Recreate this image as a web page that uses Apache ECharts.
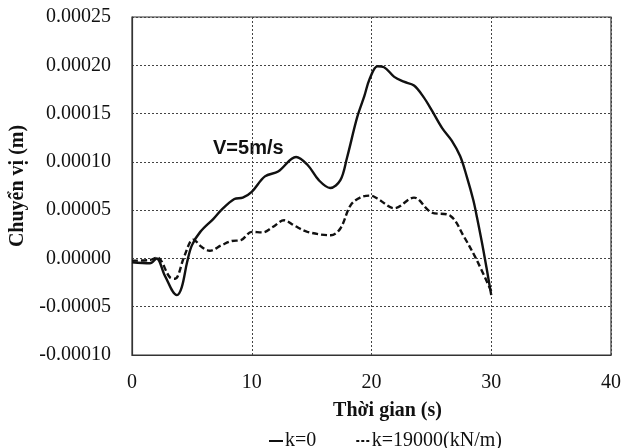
<!DOCTYPE html>
<html>
<head>
<meta charset="utf-8">
<script src="https://cdn.jsdelivr.net/npm/echarts@6/dist/echarts.min.js"></script>
<style>
  html, body { margin: 0; padding: 0; background: #fff; }
  #chart { width: 624px; height: 448px; }
</style>
</head>
<body>
<div id="chart"></div>
<script>
  // thoi gian (s) va chuyen vi (x 1e-5 m), doc tu hinh
  var tK0 = [0, 1.5, 2.05, 2.75, 3.75, 4.15, 4.6, 5.0, 5.7, 6.8, 7.45, 8.55, 9.25, 10, 11.1, 12.2, 13.7, 14.65, 15.6, 16.55, 17.4, 17.95, 18.8, 19.4, 19.85, 20.5, 21.05, 21.9, 22.7, 23.55, 24.35, 25.05, 25.9, 26.7, 27.4, 27.95, 28.5, 28.8, 29.35, 30]
  var vK0 = [-0.4, -0.5, 0.0, -1.8, -3.8, -3.0, -0.4, 1.35, 2.75, 4.1, 5.0, 6.15, 6.3, 6.9, 8.5, 9.0, 10.5, 9.7, 8.1, 7.3, 8.1, 10.4, 14.6, 16.8, 18.6, 19.9, 19.8, 18.8, 18.3, 17.9, 16.7, 15.3, 13.5, 12.2, 10.6, 8.5, 6.05, 4.3, 0.8, -3.8]

  var tK19000 = [0, 1.5, 2.1, 3.2, 3.6, 4.3, 4.85, 5.1, 5.8, 6.5, 7.45, 8.3, 9.1, 10, 10.9, 11.75, 12.7, 13.55, 14.65, 16.6, 17.4, 18.25, 19.05, 19.9, 20.5, 21.9, 23.55, 24.95, 26.6, 27.7, 28.8, 30]
  var vK19000 = [-0.23, -0.16, 0.1, -2.0, -2.1, 0.0, 1.7, 1.95, 1.2, 0.8, 1.35, 1.8, 1.9, 2.75, 2.7, 3.25, 3.95, 3.4, 2.75, 2.4, 3.1, 5.5, 6.3, 6.5, 6.2, 5.2, 6.3, 4.8, 4.4, 2.3, -0.2, -3.4]

  var seriesNames = ['k=0', 'k=19000(kN/m)']

  function pairs(t, v) {
    var out = []
    for (var i = 0; i < t.length; i++) {
      out.push([t[i], v[i] * 1e-5])
    }
    return out
  }

  var myChart = echarts.init(document.getElementById('chart'))
  var font = '"Liberation Serif", "Times New Roman", serif'
  var gridLine = { show: true, lineStyle: { type: [2, 2], color: '#444', width: 1 } }

  var option = {
    backgroundColor: '#fff',
    animation: false,
    textStyle: { fontFamily: font, color: '#111' },
    grid: {
      left: 131, right: 12, top: 17, bottom: 93,
      show: true, borderColor: '#333', borderWidth: 1.2
    },
    xAxis: {
      type: 'value',
      min: 0, max: 40, interval: 10,
      name: 'Thời gian (s)',
      nameLocation: 'middle',
      nameGap: 46,
      nameTextStyle: { fontFamily: font, fontSize: 20, fontWeight: 'bold', color: '#111', padding: [0, 0, 0, 32] },
      axisLine: { onZero: false, lineStyle: { color: '#333', width: 1.2 } },
      axisTick: { show: false },
      axisLabel: { fontFamily: font, fontSize: 20, color: '#111', margin: 18 },
      splitLine: gridLine
    },
    yAxis: {
      type: 'value',
      min: -0.0001, max: 0.00025, interval: 0.00005,
      name: 'Chuyển vị (m)',
      nameLocation: 'middle',
      nameGap: 104,
      nameTextStyle: { fontFamily: font, fontSize: 20, fontWeight: 'bold', color: '#111' },
      axisLine: { show: true, lineStyle: { color: '#333', width: 1.2 } },
      axisTick: { show: false },
      axisLabel: {
        fontFamily: font, fontSize: 20, color: '#111', margin: 21,
        formatter: function (v) { return v.toFixed(5) }
      },
      splitLine: gridLine
    },
    legend: {
      left: 264, top: 426,
      itemWidth: 14, itemHeight: 2, itemGap: 40,
      textStyle: { fontFamily: font, fontSize: 20, color: '#111', padding: [0, 0, 0, -3] },
      data: [
        { name: seriesNames[0], icon: 'path://M0,0H14V2H0Z' },
        { name: seriesNames[1], icon: 'path://M0,0H3V2H0Z M5,0H8V2H5Z M10,0H13V2H10Z' }
      ]
    },
    graphic: [{
      type: 'text',
      left: 213, top: 138,
      style: { text: 'V=5m/s', font: 'bold 20px "Liberation Sans", Arial, sans-serif', fill: '#111' }
    }],
    series: [
      {
        name: seriesNames[0],
        type: 'line',
        smooth: 0.35,
        symbol: 'none',
        lineStyle: { color: '#111', width: 2.4 },
        itemStyle: { color: '#111' },
        data: pairs(tK0, vK0)
      },
      {
        name: seriesNames[1],
        type: 'line',
        smooth: 0.35,
        symbol: 'none',
        lineStyle: { color: '#111', width: 2.4, type: [6, 3] },
        itemStyle: { color: '#111' },
        data: pairs(tK19000, vK19000)
      }
    ]
  }
  myChart.setOption(option)
</script>
</body>
</html>
